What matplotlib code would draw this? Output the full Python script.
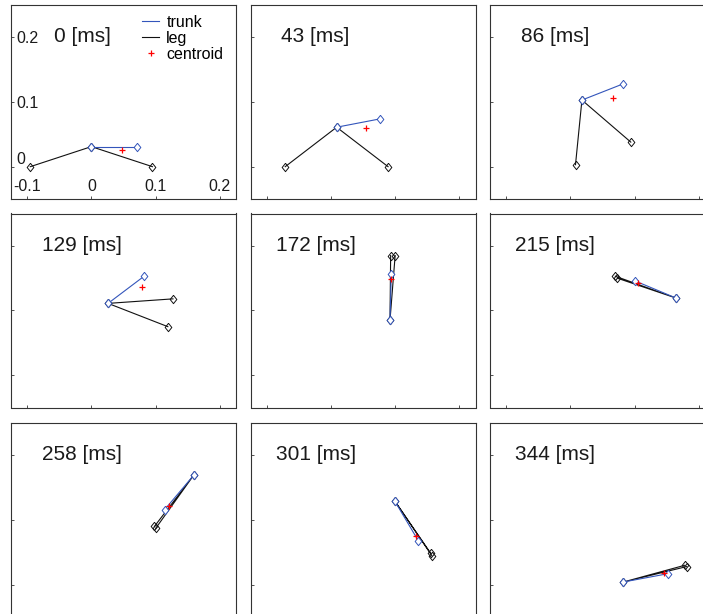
import numpy as np
import matplotlib
matplotlib.use('Agg')
import matplotlib.pyplot as plt
from matplotlib.lines import Line2D

plt.rcParams['font.family'] = ['Liberation Sans', 'DejaVu Sans']

# time of each snapshot [ms]
times = [0, 43, 86, 129, 172, 215, 258, 301, 344]

# hip joint (trunk start / common leg joint)
hip_x = [0.000, 0.009, 0.018, 0.026, 0.092, 0.165, 0.159, 0.099, 0.082]
hip_y = [0.031, 0.061, 0.103, 0.111, 0.085, 0.119, 0.169, 0.130, 0.004]
# trunk end
trunk_x = [0.071, 0.077, 0.082, 0.082, 0.094, 0.100, 0.114, 0.136, 0.152]
trunk_y = [0.031, 0.074, 0.128, 0.153, 0.156, 0.146, 0.116, 0.068, 0.017]
# foot of leg 1
foot1_x = [-0.095, -0.071, 0.008, 0.127, 0.093, 0.070, 0.098, 0.155, 0.178]
foot1_y = [0.000, 0.000, 0.003, 0.118, 0.185, 0.153, 0.090, 0.049, 0.030]
# foot of leg 2
foot2_x = [0.095, 0.089, 0.094, 0.119, 0.100, 0.073, 0.100, 0.157, 0.181]
foot2_y = [0.000, 0.000, 0.038, 0.075, 0.185, 0.150, 0.087, 0.045, 0.028]
# centroid
cent_x = [0.047, 0.055, 0.066, 0.079, 0.094, 0.105, 0.120, 0.133, 0.145]
cent_y = [0.025, 0.060, 0.106, 0.136, 0.149, 0.143, 0.121, 0.076, 0.018]

x_ticks = [-0.1, 0, 0.1, 0.2]
y_ticks = [0, 0.1, 0.2]
x_tick_labels = ['-0.1', '0', '0.1', '0.2']
y_tick_labels = ['0', '0.1', '0.2']

blue = '#3355bb'
diamond = [(0, 1), (0.8, 0), (0, -1), (-0.8, 0), (0, 1)]

W, H = 703, 614
fig = plt.figure(figsize=(W / 100, H / 100), dpi=100)
fig.patch.set_facecolor('white')

col_left = [11, 250.5, 490]
row_top = [5, 213.5, 423]
ax_w, ax_h = 225, 194
text_x = [31.3, 25, 25]  # pixel offset of the time label per column

for i, t in enumerate(times):
    r, c = divmod(i, 3)
    ax = fig.add_axes([col_left[c] / W, 1 - (row_top[r] + ax_h) / H, ax_w / W, ax_h / H])
    ax.set_xlim(-0.125, 0.225)
    ax.set_ylim(-0.05, 0.25)

    # legs: foot1 - hip - foot2
    ax.plot([foot1_x[i], hip_x[i], foot2_x[i]], [foot1_y[i], hip_y[i], foot2_y[i]],
            '-', color='#111111', linewidth=0.8, marker=diamond, markersize=6,
            markerfacecolor='none', markeredgecolor='#111111', markeredgewidth=0.7)
    # trunk: hip - trunk end
    ax.plot([hip_x[i], trunk_x[i]], [hip_y[i], trunk_y[i]],
            '-', color=blue, linewidth=0.8, marker=diamond, markersize=6,
            markerfacecolor='white', markeredgecolor=blue, markeredgewidth=0.7)
    ax.plot(cent_x[i], cent_y[i], '+', color='red', markersize=5, markeredgewidth=0.9)

    n_pad = 3 - len(str(t))
    ax.text((text_x[c] + n_pad * 5.8) / ax_w, 1 - 32 / ax_h, f'{t} [ms]',
            transform=ax.transAxes, fontsize=15, ha='left', va='center', color='#1a1a1a')

    ax.set_xticks(x_ticks)
    ax.set_yticks(y_ticks)
    ax.tick_params(direction='in', length=2.2, width=0.6, colors='#333333',
                   top=False, right=False, labelsize=11.5)
    for s in ax.spines.values():
        s.set_color('#333333')
        s.set_linewidth(0.8)

    if i == 0:
        ax.tick_params(axis='x', pad=-9.1)
        ax.tick_params(axis='y', pad=-4.1)
        ax.set_xticklabels(x_tick_labels)
        ax.set_yticklabels(y_tick_labels)
        plt.setp(ax.get_xticklabels(), va='center', color='#1a1a1a')
        plt.setp(ax.get_yticklabels(), ha='left', color='#1a1a1a')
        ax.get_yticklabels()[0].set_va('bottom')

        handles = [Line2D([], [], color=blue, linewidth=0.8),
                   Line2D([], [], color='#111111', linewidth=0.8),
                   Line2D([], [], color='red', linestyle='none', marker='+',
                          markersize=5, markeredgewidth=0.9)]
        ax.legend(handles, ['trunk', 'leg', 'centroid'], loc='upper left',
                  bbox_to_anchor=(0.584, 0.948), frameon=False, fontsize=11.5,
                  borderpad=0, borderaxespad=0, labelspacing=0.05,
                  handlelength=1.05, handletextpad=0.45)
    else:
        ax.set_xticklabels([])
        ax.set_yticklabels([])

fig.savefig('out.png', dpi=100)
